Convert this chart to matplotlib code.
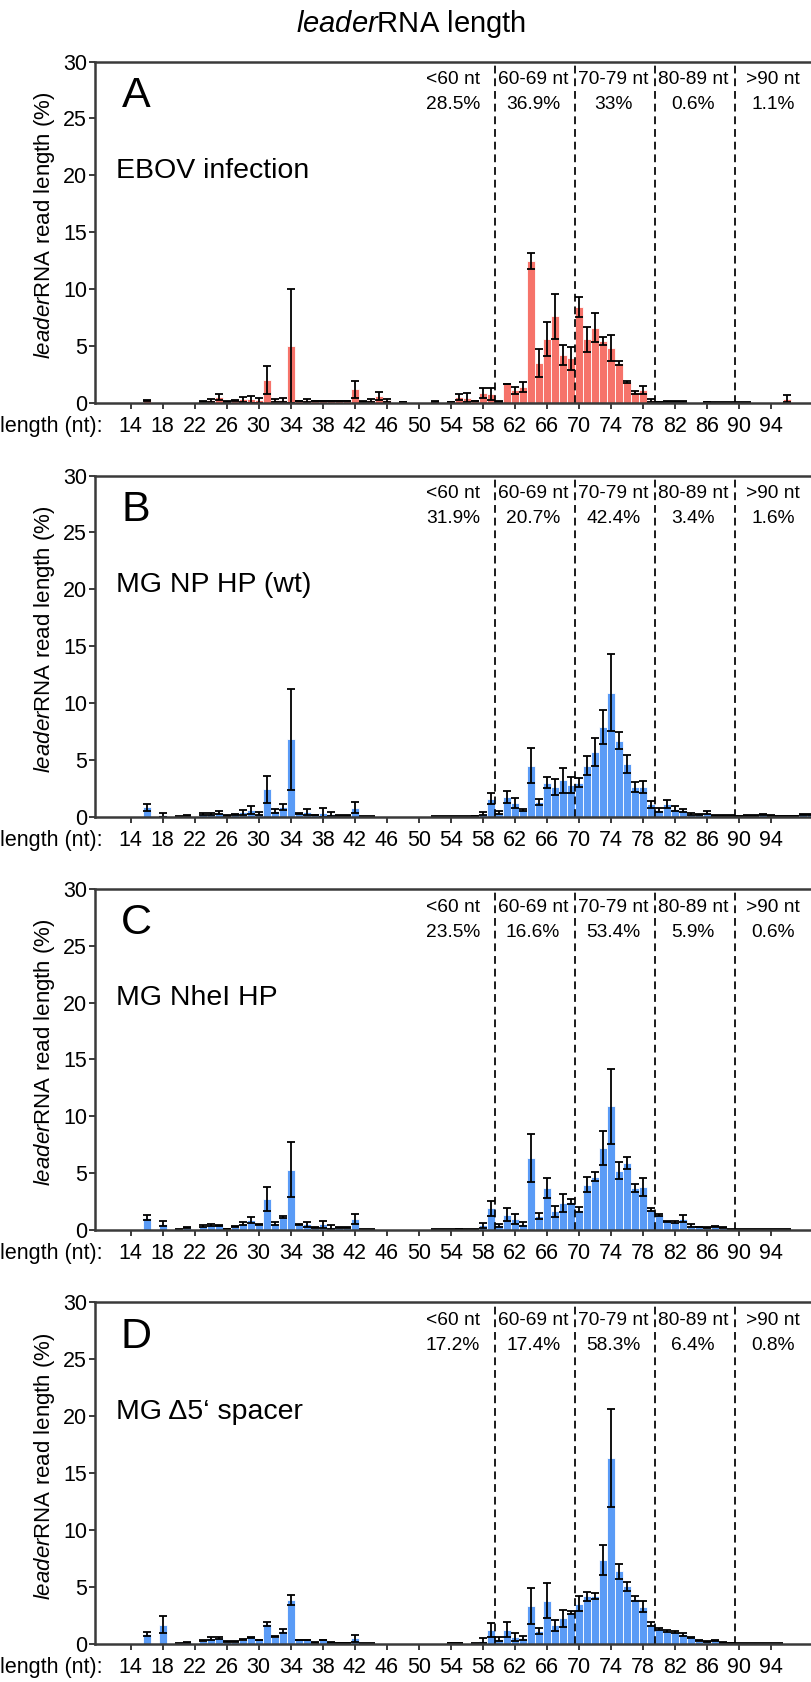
import matplotlib
matplotlib.use("Agg")
import matplotlib.pyplot as plt
import matplotlib.transforms as mtransforms
from matplotlib import font_manager as fm
import numpy as np

# ---------------- data ----------------
lengths = list(range(14, 100))
xtick_labels = list(range(14, 98, 4))
ytick_values = [0, 5, 10, 15, 20, 25, 30]
boundaries = [59.5, 69.5, 79.5, 89.5]
bin_labels = ["<60 nt", "60-69 nt", "70-79 nt", "80-89 nt", ">90 nt"]
bin_centers = [54.3, 64.3, 74.3, 84.3, 94.3]

panel_letters = ["A", "B", "C", "D"]
conditions = ["EBOV infection", "MG NP HP (wt)", "MG NheI HP", "MG \u03945\u2018 spacer"]

pct_A = ["28.5%", "36.9%", "33%", "0.6%", "1.1%"]
pct_B = ["31.9%", "20.7%", "42.4%", "3.4%", "1.6%"]
pct_C = ["23.5%", "16.6%", "53.4%", "5.9%", "0.6%"]
pct_D = ["17.2%", "17.4%", "58.3%", "6.4%", "0.8%"]

vals_A = [0, 0, 0.22, 0, 0, 0, 0, 0, 0, 0.1,
          0.2, 0.5, 0.1, 0.2, 0.3, 0.3, 0.2, 2.0, 0.2, 0.25,
          5.0, 0.15, 0.2, 0.15, 0.15, 0.15, 0.15, 0.15, 1.2, 0.1,
          0.2, 0.6, 0.2, 0, 0.08, 0, 0, 0, 0.12, 0,
          0.05, 0.5, 0.45, 0.15, 0.85, 0.75, 0.1, 1.65, 1.1, 1.4,
          12.45, 3.5, 5.6, 7.6, 4.2, 3.9, 8.4, 5.6, 6.6, 5.4,
          4.8, 3.5, 1.85, 0.9, 1.1, 0.2, 0.05, 0.1, 0.1, 0.1,
          0, 0, 0.05, 0.03, 0.03, 0.03, 0.03, 0.03, 0, 0,
          0, 0, 0.35, 0, 0, 0]
err_A = [0, 0, 0.03, 0, 0, 0, 0, 0, 0, 0.04,
         0.1, 0.25, 0.03, 0.05, 0.2, 0.3, 0.2, 1.25, 0.1, 0.2,
         5.0, 0.03, 0.15, 0.03, 0.03, 0.03, 0.03, 0.03, 0.75, 0.03,
         0.15, 0.35, 0.15, 0, 0.02, 0, 0, 0, 0.03, 0,
         0.02, 0.3, 0.4, 0.03, 0.45, 0.5, 0.03, 0.03, 0.3, 0.45,
         0.7, 1.2, 1.5, 2.0, 0.9, 1.0, 0.9, 1.1, 1.3, 0.35,
         1.15, 0.2, 0.1, 0.15, 0.35, 0.15, 0.02, 0.02, 0.02, 0.02,
         0, 0, 0.02, 0.02, 0.02, 0.02, 0.02, 0.02, 0, 0,
         0, 0, 0.3, 0, 0, 0]

vals_B = [0, 0, 0.82, 0, 0.18, 0, 0.03, 0.1, 0, 0.25,
          0.25, 0.35, 0.1, 0.2, 0.4, 0.6, 0.25, 2.4, 0.5, 0.85,
          6.8, 0.3, 0.4, 0.15, 0.35, 0.25, 0.1, 0.1, 0.8, 0.02,
          0.02, 0, 0, 0, 0, 0, 0, 0, 0.03, 0.03,
          0.03, 0.03, 0.02, 0.05, 0.25, 1.6, 0.35, 1.75, 1.2, 0.6,
          4.5, 1.3, 3.0, 2.6, 3.2, 2.8, 3.0, 4.5, 5.7, 7.9,
          10.9, 6.7, 4.6, 2.6, 2.6, 1.1, 0.6, 1.1, 0.7, 0.55,
          0.25, 0.2, 0.35, 0.1, 0.1, 0.1, 0.05, 0.1, 0.1, 0.2,
          0.1, 0.05, 0.05, 0.05, 0.2, 0.2]
err_B = [0, 0, 0.3, 0, 0.17, 0, 0.02, 0.03, 0, 0.1,
         0.1, 0.15, 0.03, 0.05, 0.22, 0.35, 0.12, 1.2, 0.2, 0.25,
         4.45, 0.05, 0.27, 0.03, 0.4, 0.17, 0.03, 0.03, 0.45, 0.02,
         0.02, 0, 0, 0, 0, 0, 0, 0, 0.02, 0.02,
         0.02, 0.02, 0.02, 0.03, 0.12, 0.5, 0.15, 0.55, 0.45, 0.12,
         1.5, 0.3, 0.5, 0.7, 1.1, 0.7, 0.4, 0.85, 1.25, 1.5,
         3.4, 0.75, 0.8, 0.45, 0.55, 0.3, 0.15, 0.35, 0.2, 0.17,
         0.1, 0.03, 0.12, 0.02, 0.02, 0.02, 0.02, 0.02, 0.02, 0.02,
         0.02, 0.02, 0.02, 0.02, 0.02, 0.02]

vals_C = [0, 0, 1.06, 0, 0.56, 0.02, 0.05, 0.2, 0, 0.35,
          0.45, 0.4, 0.1, 0.3, 0.55, 0.85, 0.45, 2.7, 0.55, 1.15,
          5.3, 0.45, 0.5, 0.2, 0.5, 0.3, 0.2, 0.2, 0.95, 0.03,
          0.03, 0, 0, 0, 0, 0, 0, 0, 0.03, 0.05,
          0.05, 0.1, 0.05, 0.05, 0.4, 1.9, 0.4, 1.35, 1.0, 0.55,
          6.3, 1.25, 3.7, 1.65, 2.4, 2.5, 1.8, 4.0, 4.7, 7.2,
          10.9, 5.2, 5.9, 3.7, 3.8, 1.8, 1.3, 0.75, 0.7, 1.0,
          0.4, 0.25, 0.2, 0.3, 0.2, 0.05, 0.05, 0.03, 0.03, 0.03,
          0.03, 0.03, 0.03, 0, 0, 0]
err_C = [0, 0, 0.22, 0, 0.25, 0, 0.02, 0.03, 0, 0.1,
         0.12, 0.07, 0.03, 0.03, 0.12, 0.25, 0.05, 1.05, 0.15, 0.12,
         2.4, 0.05, 0.2, 0.03, 0.32, 0.18, 0.03, 0.03, 0.42, 0.02,
         0.02, 0, 0, 0, 0, 0, 0, 0, 0.02, 0.02,
         0.02, 0.03, 0.02, 0.02, 0.25, 0.65, 0.1, 0.6, 0.45, 0.17,
         2.1, 0.25, 0.9, 0.5, 0.8, 0.2, 0.2, 0.7, 0.4, 1.5,
         3.3, 0.75, 0.5, 0.35, 0.8, 0.1, 0.1, 0.05, 0.1, 0.3,
         0.1, 0.03, 0.03, 0.07, 0.03, 0.02, 0.02, 0.02, 0.02, 0.02,
         0.02, 0.02, 0.02, 0, 0, 0]

vals_D = [0, 0, 0.84, 0, 1.65, 0, 0.02, 0.1, 0, 0.25,
          0.45, 0.45, 0.15, 0.15, 0.35, 0.55, 0.3, 1.75, 0.6, 1.1,
          3.8, 0.3, 0.3, 0.1, 0.3, 0.1, 0.05, 0.05, 0.45, 0.02,
          0.02, 0, 0, 0, 0, 0, 0, 0, 0, 0,
          0.05, 0.03, 0, 0.02, 0.25, 1.2, 0.4, 1.2, 0.6, 0.45,
          3.3, 1.1, 3.75, 1.6, 2.2, 2.75, 3.5, 4.15, 4.2, 7.35,
          16.3, 6.35, 5.05, 3.95, 3.25, 1.7, 1.3, 1.1, 1.0, 0.8,
          0.55, 0.25, 0.2, 0.3, 0.1, 0.05, 0.02, 0.02, 0.02, 0.02,
          0.02, 0.02, 0, 0, 0, 0]
err_D = [0, 0, 0.2, 0, 0.75, 0, 0.02, 0.03, 0, 0.05,
         0.12, 0.08, 0.03, 0.03, 0.05, 0.05, 0.03, 0.17, 0.05, 0.17,
         0.45, 0.03, 0.03, 0.03, 0.03, 0.03, 0.02, 0.02, 0.3, 0.02,
         0.02, 0, 0, 0, 0, 0, 0, 0, 0, 0,
         0.02, 0.02, 0, 0.02, 0.2, 0.6, 0.2, 0.65, 0.35, 0.17,
         1.55, 0.3, 1.55, 0.5, 0.75, 0.15, 0.65, 0.4, 0.25, 1.35,
         4.3, 0.65, 0.4, 0.2, 0.45, 0.2, 0.1, 0.05, 0.1, 0.1,
         0.05, 0.03, 0.03, 0.05, 0.02, 0.02, 0.02, 0.02, 0.02, 0.02,
         0.02, 0.02, 0, 0, 0, 0]

# ---------------- style ----------------
names = {f.name for f in fm.fontManager.ttflist}
REG = "Liberation Sans" if "Liberation Sans" in names else "DejaVu Sans"

plt.rcParams["font.family"] = [REG, "DejaVu Sans"]
plt.rcParams["mathtext.fontset"] = "custom"
plt.rcParams["mathtext.it"] = REG + ":italic"
plt.rcParams["mathtext.rm"] = REG

SALMON = "#F6736A"
BLUE = "#5A9BF6"
SPINE = "#3a3a3a"

fig = plt.figure(figsize=(8.12, 16.82), dpi=100)
H = 1682.0
W = 812.0

zero_px = [402.7, 816.7, 1230.0, 1643.5]
panel_h = 341.1
left_px = 95.0

TICK_LEN = 4.3
XPAD = 5.4

panels = [
    (vals_A, err_A, pct_A, SALMON),
    (vals_B, err_B, pct_B, BLUE),
    (vals_C, err_C, pct_C, BLUE),
    (vals_D, err_D, pct_D, BLUE),
]

x = np.array(lengths)
for i, (vals, errs, pcts, col) in enumerate(panels):
    bottom = 1 - zero_px[i] / H
    ax = fig.add_axes([left_px / W, bottom, 1 - left_px / W, panel_h / H])
    v = np.array(vals, dtype=float)
    e = np.array(errs, dtype=float)
    ax.bar(x, v, width=1.0, color=col, edgecolor="white", linewidth=0.6, zorder=2)
    m = e > 0
    ax.errorbar(x[m], v[m], yerr=e[m], fmt="none", ecolor="black",
                elinewidth=1.3, capsize=2.8, capthick=1.3, zorder=3)
    for b in boundaries:
        ax.axvline(b, color="black", lw=1.25, ls=(0, (4.5, 2.8)), zorder=4)
    ax.set_xlim(9.54, 9.54 + (W - left_px) / 8.0)
    ax.set_ylim(0, 30)
    ax.set_yticks(ytick_values)
    ax.set_xticks(xtick_labels)
    ax.set_xticklabels([str(t) for t in xtick_labels], fontsize=15.5)
    ax.set_yticklabels([str(t) for t in ytick_values], fontsize=15.5)
    ax.tick_params(axis="both", direction="out", length=TICK_LEN, width=1.4, color=SPINE)
    ax.tick_params(axis="x", pad=XPAD)
    ax.tick_params(axis="y", pad=1.5)
    for s in ["left", "bottom", "top"]:
        ax.spines[s].set_linewidth(1.8)
        ax.spines[s].set_color(SPINE)
        ax.spines[s].set_zorder(5)
    ax.spines["right"].set_visible(False)

    for c, lab, p in zip(bin_centers, bin_labels, pcts):
        ax.text(c, 28.4, lab, ha="center", va="center", fontsize=13.8, zorder=6)
        ax.text(c, 26.2, p, ha="center", va="center", fontsize=13.8, zorder=6)
    ax.text(14.7, 27.0, panel_letters[i], ha="center", va="center", fontsize=31)
    ax.text(12.2, 20.4, conditions[i], ha="left", va="center", fontsize=20.5)

    blend = mtransforms.blended_transform_factory(fig.transFigure, ax.transAxes)
    ax.annotate("length (nt):", xy=(0.0, 0.0), xycoords=blend,
                xytext=(0, -(TICK_LEN + XPAD)),
                textcoords="offset points", ha="left", va="top", fontsize=15.5)

    ycen = 1 - (zero_px[i] - 0.52 * panel_h) / H
    fig.text(45 / W, ycen, r"$\mathit{leader}$RNA read length (%)", rotation=90,
             ha="center", va="center", fontsize=16)

# title
fig.text(411 / W, 1 - 24 / H, r"$\mathit{leader}$RNA length", ha="center", va="center",
         fontsize=21)

fig.savefig("out.png", dpi=100)
